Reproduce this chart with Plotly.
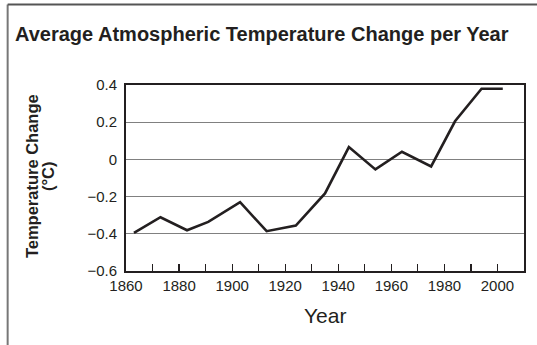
import plotly.graph_objects as go

years = [1863, 1873, 1883, 1891, 1903, 1913, 1924, 1935, 1944, 1954, 1964, 1975, 1984, 1994, 2002]
temp_change = [-0.395, -0.311, -0.381, -0.336, -0.230, -0.386, -0.356, -0.183, 0.066, -0.054, 0.041, -0.038, 0.205, 0.38, 0.38]

x_tick_vals = [1860, 1880, 1900, 1920, 1940, 1960, 1980, 2000]
y_tick_vals = [-0.6, -0.4, -0.2, 0, 0.2, 0.4]
y_tick_text = ["\u22120.6", "\u22120.4", "\u22120.2", "0", "0.2", "0.4"]

title_text = "Average Atmospheric Temperature Change per Year"
y_title_lines = ["Temperature Change", "(°C)"]
x_title_text = "Year"

W, H = 537, 345
L, R, T, B = 126, 12.5, 85, 74

fig = go.Figure()
fig.add_trace(go.Scatter(
    x=years, y=temp_change, mode="lines",
    line=dict(color="#231f20", width=2.6),
    hoverinfo="skip", showlegend=False,
))

font = "Liberation Sans, Arial, Helvetica, sans-serif"
ink = "#231f20"

fig.update_layout(
    width=W, height=H,
    margin=dict(l=L, r=R, t=T, b=B, pad=0, autoexpand=False),
    paper_bgcolor="white", plot_bgcolor="white",
    font=dict(family=font, color=ink, size=15),
    xaxis=dict(
        range=[1860, 2010], tickmode="array", tickvals=x_tick_vals,
        ticks="inside", ticklen=7, tickwidth=1.2, tickcolor=ink,
        minor=dict(dtick=10, tick0=1860, ticks="inside", ticklen=7, tickwidth=1.2, tickcolor=ink, showgrid=False),
        showline=True, linecolor=ink, linewidth=2, mirror=True,
        showgrid=False, zeroline=False, automargin=False,
        tickfont=dict(size=15, color=ink),
        fixedrange=True,
    ),
    yaxis=dict(
        range=[-0.6, 0.4], tickmode="array", tickvals=y_tick_vals, ticktext=y_tick_text,
        ticks="", showline=True, linecolor=ink, linewidth=2, mirror=True,
        showgrid=True, gridcolor="#808080", gridwidth=1.3,
        zeroline=False, ticklabelstandoff=4, automargin=False,
        tickfont=dict(size=15, color=ink),
        fixedrange=True,
    ),
)

pw = W - L - R
ph = H - T - B
def px_x(p):
    return (p - L) / pw
def px_y(p):
    return (H - B - p) / ph

# title
fig.add_annotation(text="<b>" + title_text + "</b>", xref="paper", yref="paper",
                   x=px_x(13), y=px_y(34), xanchor="left", yanchor="middle",
                   showarrow=False, font=dict(family=font, size=20, color=ink))
# y-axis title (two lines)
fig.add_annotation(text="<b>" + y_title_lines[0] + "</b>", xref="paper", yref="paper",
                   x=px_x(32), y=px_y(176), xanchor="center", yanchor="middle", textangle=-90,
                   showarrow=False, font=dict(family=font, size=16.5, color=ink))
fig.add_annotation(text="<b>" + y_title_lines[1] + "</b>", xref="paper", yref="paper",
                   x=px_x(48), y=px_y(176), xanchor="center", yanchor="middle", textangle=-90,
                   showarrow=False, font=dict(family=font, size=16.5, color=ink))
# x-axis title
fig.add_annotation(text=x_title_text, xref="paper", yref="paper",
                   x=px_x(325), y=px_y(315), xanchor="center", yanchor="middle",
                   showarrow=False, font=dict(family=font, size=21, color=ink))

# outer frame (left and top) of the figure panel
fig.add_shape(type="line", xref="paper", yref="paper",
              x0=px_x(7.5), x1=px_x(7.5), y0=px_y(H + 20), y1=px_y(4.5),
              line=dict(color="#777777", width=2), layer="above")
fig.add_shape(type="line", xref="paper", yref="paper",
              x0=px_x(7.5), x1=px_x(W + 20), y0=px_y(4.5), y1=px_y(4.5),
              line=dict(color="#555555", width=2), layer="above")

fig.write_html("out.html",
               config={"displayModeBar": False, "staticPlot": True},
               post_script="document.body.style.margin='0px';document.body.style.overflow='hidden';")
